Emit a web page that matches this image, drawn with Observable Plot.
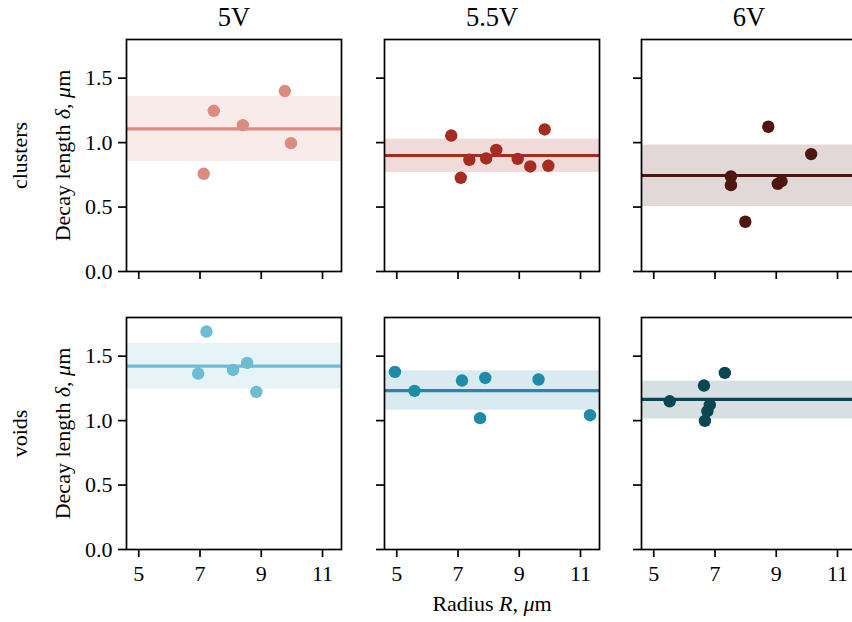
<!DOCTYPE html>
<html>
<head>
<meta charset="utf-8">
<script src="https://cdn.jsdelivr.net/npm/d3@7"></script>
<script src="https://cdn.jsdelivr.net/npm/@observablehq/plot@0.6"></script>
<style>
  html, body { margin: 0; padding: 0; background: #fff; }
  #fig { position: relative; width: 852px; height: 622px; overflow: hidden; background: #fff; }
  #fig svg { position: absolute; }
</style>
</head>
<body>
<div id="fig"></div>
<script>
// ---- data ----
const voltages = ["5V", "5.5V", "6V"];
const kinds = ["clusters", "voids"];
const xTicks = [5, 7, 9, 11];
const yTicks = [0, 0.5, 1.0, 1.5];

// clusters
const clusters5V_R  = [7.12, 7.45, 8.40, 9.77, 9.97];
const clusters5V_d  = [0.758, 1.247, 1.136, 1.400, 0.996];
const clusters55V_R = [6.78, 7.09, 7.37, 7.92, 8.25, 8.95, 9.36, 9.83, 9.95];
const clusters55V_d = [1.055, 0.727, 0.867, 0.877, 0.944, 0.874, 0.815, 1.102, 0.820];
const clusters6V_R  = [7.52, 7.52, 7.99, 8.74, 9.05, 9.17, 10.14];
const clusters6V_d  = [0.737, 0.670, 0.386, 1.123, 0.680, 0.701, 0.911];

// voids
const voids5V_R  = [6.94, 7.21, 8.08, 8.54, 8.84];
const voids5V_d  = [1.365, 1.691, 1.393, 1.448, 1.223];
const voids55V_R = [4.94, 5.58, 7.13, 7.72, 7.89, 9.63, 11.31];
const voids55V_d = [1.378, 1.231, 1.311, 1.019, 1.331, 1.319, 1.042];
const voids6V_R  = [5.52, 6.64, 6.67, 6.75, 6.83, 7.32];
const voids6V_d  = [1.150, 1.272, 0.998, 1.073, 1.122, 1.370];

// mean line and band (lower, upper) per panel, in voltage order
const clustersMean = [1.107, 0.900, 0.745];
const clustersLo   = [0.853, 0.768, 0.504];
const clustersHi   = [1.358, 1.027, 0.981];
const voidsMean = [1.422, 1.233, 1.164];
const voidsLo   = [1.244, 1.081, 1.013];
const voidsHi   = [1.600, 1.386, 1.306];

const clustersColors = ["#dd8a80", "#a62b21", "#4f1511"];
const voidsColors    = ["#6cbcd3", "#1e8ba9", "#0b4753"];

const yLabel = "Decay length δ, μm";
const xLabel = "Radius R, μm";

// ---- build panels ----
const series = {
  clusters: [[clusters5V_R, clusters5V_d], [clusters55V_R, clusters55V_d], [clusters6V_R, clusters6V_d]],
  voids: [[voids5V_R, voids5V_d], [voids55V_R, voids55V_d], [voids6V_R, voids6V_d]]
};
const stats = {
  clusters: {mean: clustersMean, lo: clustersLo, hi: clustersHi, colors: clustersColors},
  voids: {mean: voidsMean, lo: voidsLo, hi: voidsHi, colors: voidsColors}
};

const frameX = [126, 384, 641];
const frameY = [39, 317];
const FW = 215, FH = 232;
const FONT = "'Liberation Serif', 'DejaVu Serif', serif";
const FS = 22;
const fig = document.getElementById("fig");

kinds.forEach((kind, r) => {
  voltages.forEach((volt, c) => {
    const [R, D] = series[kind][c];
    const pts = R.map((x, i) => ({R: x, d: D[i]}));
    const st = stats[kind];
    const color = st.colors[c];
    const mL = c === 0 ? 126 : 40;
    const mR = 4;
    const mT = r === 0 ? 39 : 10;
    const mB = r === 1 ? 73 : 30;
    const marks = [
      Plot.rectY([0], {y1: () => st.lo[c], y2: () => st.hi[c], fill: color, fillOpacity: 0.17}),
      Plot.ruleY([st.mean[c]], {stroke: color, strokeWidth: 3.2}),
      Plot.dot(pts, {x: "R", y: "d", r: 6.2, fill: color, stroke: "none"}),
      Plot.frame({stroke: "black", strokeWidth: 1.7}),
      Plot.axisX({ticks: xTicks, tickSize: 8, tickPadding: 8, strokeWidth: 1.7, fontSize: FS,
        tickFormat: r === 1 ? (d) => String(d) : () => "", label: null}),
      Plot.axisY({ticks: yTicks, tickSize: 8, tickPadding: 6, strokeWidth: 1.7, fontSize: FS,
        tickFormat: c === 0 ? d3.format(".1f") : () => "", label: null})
    ];
    if (r === 0) {
      marks.push(Plot.text([volt], {frameAnchor: "top", dy: -14, lineAnchor: "bottom", textAnchor: "middle", fontSize: 26.5, fill: "black"}));
    }
    if (c === 0) {
      marks.push(Plot.text([kind], {frameAnchor: "left", dx: -99.5, rotate: -90, lineAnchor: "bottom", textAnchor: "middle", fontSize: FS, fill: "black"}));
      marks.push(Plot.text([yLabel], {frameAnchor: "left", dx: -56.5, rotate: -90, lineAnchor: "bottom", textAnchor: "middle", fontSize: FS, fill: "black"}));
    }
    if (r === 1 && c === 1) {
      marks.push(Plot.text([xLabel], {frameAnchor: "bottom", dy: 61, lineAnchor: "bottom", textAnchor: "middle", fontSize: FS, fill: "black"}));
    }
    const svg = Plot.plot({
      width: mL + FW + mR,
      height: mT + FH + mB,
      marginLeft: mL, marginRight: mR, marginTop: mT, marginBottom: mB,
      x: {domain: [4.6, 11.62]},
      y: {domain: [0, 1.8]},
      style: {fontFamily: FONT, fontSize: FS + "px", color: "black", background: "transparent", overflow: "visible"},
      marks
    });
    svg.style.left = (frameX[c] - mL) + "px";
    svg.style.top = (frameY[r] - mT) + "px";
    // italic math symbols in labels
    svg.querySelectorAll("text").forEach((t) => {
      if (t.textContent === yLabel) {
        t.innerHTML = 'Decay length <tspan font-style="italic">δ</tspan>, <tspan font-style="italic">μ</tspan>m';
      } else if (t.textContent === xLabel) {
        t.innerHTML = 'Radius <tspan font-style="italic">R</tspan>, <tspan font-style="italic">μ</tspan>m';
      }
    });
    fig.appendChild(svg);
  });
});
</script>
</body>
</html>
